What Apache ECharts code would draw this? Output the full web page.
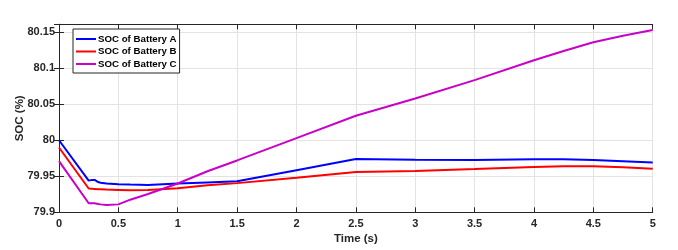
<!DOCTYPE html>
<html><head><meta charset="utf-8">
<script src="https://cdn.jsdelivr.net/npm/echarts@6/dist/echarts.min.js"></script>
<style>html,body{margin:0;padding:0;background:#fff}#c{width:678px;height:250px}</style>
</head><body><div id="c"></div>
<script>
const time = [0, 0.25, 0.28, 0.3, 0.33, 0.35, 0.4, 0.5, 0.6, 0.75, 1.0, 1.25, 1.5, 2.0, 2.5, 3.0, 3.5, 4.0, 4.25, 4.5, 4.75, 5.0];
const socA = [80.000, 79.944, 79.945, 79.945, 79.942, 79.941, 79.940, 79.939, 79.9385, 79.938, 79.940, 79.9415, 79.943, 79.9585, 79.974, 79.973, 79.9725, 79.9735, 79.9735, 79.9725, 79.971, 79.969];
const socB = [79.990, 79.933, 79.9328, 79.9325, 79.932, 79.932, 79.9315, 79.931, 79.9305, 79.931, 79.9335, 79.9375, 79.9405, 79.948, 79.956, 79.9575, 79.960, 79.963, 79.964, 79.964, 79.9625, 79.9605];
const socC = [79.971, 79.9125, 79.9125, 79.9125, 79.9115, 79.911, 79.910, 79.911, 79.9175, 79.9255, 79.940, 79.957, 79.972, 80.003, 80.034, 80.058, 80.0835, 80.111, 80.124, 80.136, 80.145, 80.153];
const names = ['SOC of Battery A', 'SOC of Battery B', 'SOC of Battery C'];
const colors = ['#0000ff', '#ff0000', '#c800c8'];
const xTicks = {min: 0, max: 5, interval: 0.5};
const yTicks = {min: 79.9, max: 80.161, interval: 0.05};

const pair = arr => time.map((t, i) => [t, arr[i]]);
const font = 'Liberation Sans, Arial, sans-serif';
const axisCol = '#262626';
const chart = echarts.init(document.getElementById('c'), null, {renderer: 'canvas'});
const common = {
  axisLine: {show: true, lineStyle: {color: axisCol, width: 1}},
  axisTick: {show: true, inside: true, length: 5, lineStyle: {color: axisCol}},
};
chart.setOption({
  animation: false,
  grid: {left: 59, right: 25.3, top: 24.3, bottom: 37.7, containLabel: false, outerBoundsMode: 'none'},
  legend: {
    data: names, orient: 'vertical', left: 73, top: 29,
    backgroundColor: '#fff', borderColor: '#262626', borderWidth: 1,
    padding: [5, 3, 4, 3], itemGap: 2.5, itemWidth: 20, itemHeight: 2, icon: 'rect',
    textStyle: {fontFamily: font, fontWeight: 'bold', fontSize: 9.7, color: '#000', padding: [0, 0, 0, -3]}
  },
  xAxis: [
    Object.assign({type: 'value', position: 'bottom', name: 'Time (s)', nameLocation: 'middle', nameGap: 21,
      nameMoveOverlap: false,
      nameTextStyle: {fontFamily: font, fontWeight: 'bold', fontSize: 11.5, color: axisCol},
      axisLabel: {fontFamily: font, fontWeight: 'bold', fontSize: 11, color: axisCol, margin: 6},
      splitLine: {show: true, lineStyle: {color: '#e3e3e3', width: 1}}}, xTicks, common),
    Object.assign({type: 'value', position: 'top', axisLabel: {show: false}, splitLine: {show: false}}, xTicks, common)
  ],
  yAxis: [
    Object.assign({type: 'value', position: 'left', name: 'SOC (%)', nameLocation: 'middle', nameGap: 33,
      nameMoveOverlap: false,
      nameTextStyle: {fontFamily: font, fontWeight: 'bold', fontSize: 11.5, color: axisCol},
      axisLabel: {fontFamily: font, fontWeight: 'bold', fontSize: 11, color: axisCol, margin: 4, showMaxLabel: false},
      splitLine: {show: true, lineStyle: {color: '#e3e3e3', width: 1}}}, yTicks, common),
    Object.assign({type: 'value', position: 'right', axisLabel: {show: false}, splitLine: {show: false}}, yTicks, common)
  ],
  series: [socA, socB, socC].map((arr, i) => ({
    name: names[i], type: 'line', data: pair(arr), showSymbol: false, symbol: 'none',
    xAxisIndex: 0, yAxisIndex: 0, smooth: false,
    lineStyle: {color: colors[i], width: 2}, itemStyle: {color: colors[i]}
  }))
});
</script></body></html>
